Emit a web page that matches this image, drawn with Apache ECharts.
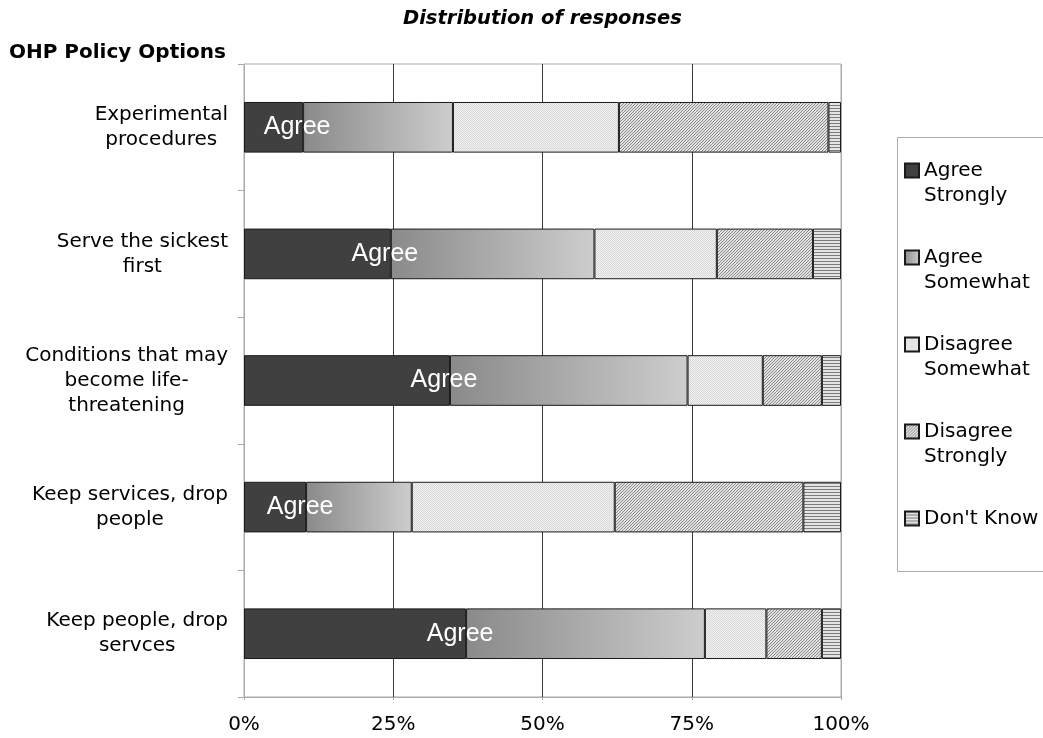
<!DOCTYPE html>
<html><head><meta charset="utf-8">
<script src="https://cdn.jsdelivr.net/npm/echarts@6/dist/echarts.min.js"></script>
<style>html,body{margin:0;padding:0;background:#fff}#c{width:1043px;height:738px}</style>
</head><body><div id="c"></div>
<script>
// ---- data ----
const categories = [
  "Experimental\nprocedures",
  "Serve the sickest\nfirst",
  "Conditions that may\nbecome life-\nthreatening",
  "Keep services, drop\npeople",
  "Keep people, drop\nservces"
];
const seriesNames = ["Agree\nStrongly", "Agree\nSomewhat", "Disagree\nSomewhat", "Disagree\nStrongly", "Don't Know"];
const agreeStrongly    = [9.9, 24.6, 34.5, 10.4, 37.2];
const agreeSomewhat    = [25.1, 34.1, 39.8, 17.7, 40.0];
const disagreeSomewhat = [27.8, 20.5, 12.6, 34.0, 10.3];
const disagreeStrongly = [35.1, 16.1, 9.9, 31.6, 9.3];
const dontKnow         = [2.1, 4.7, 3.2, 6.3, 3.2];
const xTickValues = [0, 25, 50, 75, 100];
const barLabelText = "Agree";
const chartTitle = "Distribution of responses";
const axisTitle = "OHP Policy Options";

// ---- patterns ----
function makePattern(w, h, fn) {
  const c = document.createElement('canvas');
  c.width = w; c.height = h;
  const ctx = c.getContext('2d');
  for (let y = 0; y < h; y++) for (let x = 0; x < w; x++) {
    ctx.fillStyle = fn(x, y);
    ctx.fillRect(x, y, 1, 1);
  }
  return { image: c, repeat: 'repeat' };
}
const dotsFill = makePattern(2, 2, (x, y) => ((x + y) % 2 === 0 ? '#d6d6d6' : '#f4f4f4'));
const hatchFill = makePattern(3, 3, (x, y) => ((x + y) % 3 === 0 ? '#8a8a8a' : '#e2e2e2'));
const stripeFill = makePattern(3, 3, (x, y) => (y % 3 === 0 ? '#7c7c7c' : '#e4e4e4'));
const gradFill = {
  type: 'linear', x: 0, y: 0, x2: 1, y2: 0,
  colorStops: [{ offset: 0, color: '#8a8a8a' }, { offset: 1, color: '#cdcdcd' }]
};
const fills = ['#404040', gradFill, dotsFill, hatchFill, stripeFill];
const values = [agreeStrongly, agreeSomewhat, disagreeSomewhat, disagreeStrongly, dontKnow];

const FONT = 'DejaVu Sans';
const chart = echarts.init(document.getElementById('c'), null, { renderer: 'canvas' });

const series = seriesNames.map((name, i) => ({
  name: name,
  type: 'bar',
  stack: 'total',
  barWidth: '40%',
  data: values[i],
  itemStyle: { color: fills[i], borderColor: '#1a1a1a', borderWidth: 1 },
  label: i === 0 ? {
    show: true,
    formatter: barLabelText,
    position: 'insideRight',
    align: 'center',
    distance: 6,
    color: '#ffffff',
    fontFamily: 'Liberation Sans',
    fontSize: 25
  } : { show: false },
  emphasis: { disabled: true },
  animation: false
}));

chart.setOption({
  animation: false,
  title: [
    { text: chartTitle, left: 403, top: 9, padding: 0,
      textStyle: { fontFamily: FONT, fontSize: 19.5, fontWeight: 'bold', fontStyle: 'italic', color: '#000' } },
    { text: axisTitle, left: 9, top: 43, padding: 0,
      textStyle: { fontFamily: FONT, fontSize: 20, fontWeight: 'bold', color: '#000' } }
  ],
  grid: { left: 244, right: 202, top: 64, bottom: 41, show: true, borderColor: '#aaaaaa', borderWidth: 1 },
  legend: {
    orient: 'vertical',
    left: 904,
    top: 133,
    padding: 0,
    itemWidth: 14,
    itemHeight: 14,
    itemGap: 12,
    icon: 'rect',
    selectedMode: false,
    formatter: n => ' \n' + n + (n.indexOf('\n') >= 0 ? '' : '\n '),
    textStyle: { fontFamily: FONT, fontSize: 20, lineHeight: 25, color: '#000' },
    data: seriesNames
  },
  graphic: [{
    type: 'rect', silent: true,
    shape: { x: 897.5, y: 137.5, width: 200, height: 434 },
    style: { fill: null, stroke: '#aaaaaa', lineWidth: 1 }
  }],
  xAxis: {
    type: 'value',
    min: xTickValues[0],
    max: xTickValues[xTickValues.length - 1],
    interval: xTickValues[1] - xTickValues[0],
    axisLine: { show: true, lineStyle: { color: '#aaaaaa' } },
    axisTick: { show: true, length: 3, lineStyle: { color: '#aaaaaa' } },
    axisLabel: { formatter: '{value}%', fontFamily: FONT, fontSize: 20, color: '#000', margin: 18 },
    splitLine: { show: true, lineStyle: { color: ['#aaaaaa', '#3a3a3a', '#3a3a3a', '#3a3a3a', '#aaaaaa'], width: 1 } }
  },
  yAxis: {
    type: 'category',
    data: categories,
    inverse: true,
    axisLine: { show: true, lineStyle: { color: '#aaaaaa' } },
    axisTick: { show: true, length: 6, lineStyle: { color: '#aaaaaa' } },
    axisLabel: {
      margin: 16,
      align: 'right',
      formatter: v => v.split('\n').map(l => '{c|' + l + '}').join('\n'),
      rich: { c: { align: 'center', fontFamily: FONT, fontSize: 20, lineHeight: 25, color: '#000' } }
    }
  },
  series: series
});
</script>
</body></html>
